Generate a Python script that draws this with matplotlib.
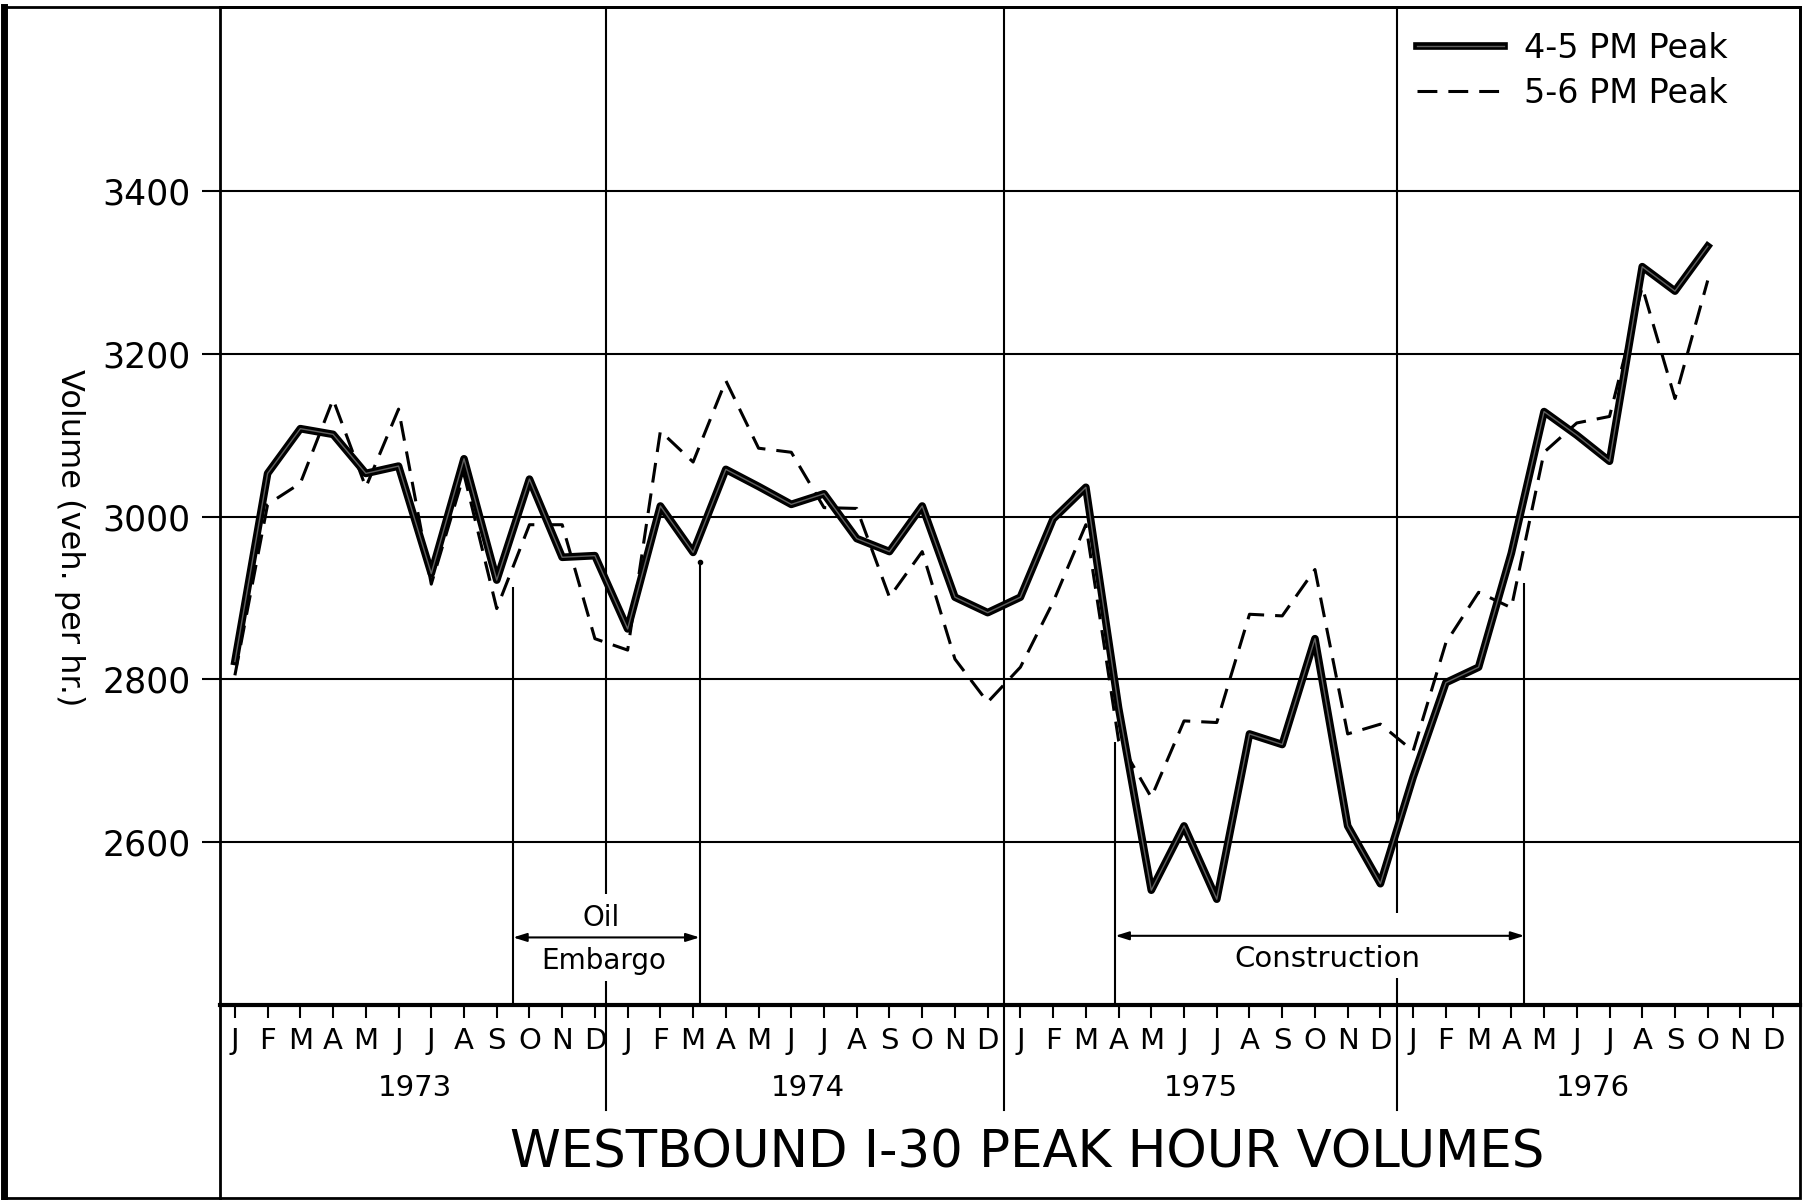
import matplotlib
matplotlib.use("Agg")
import matplotlib.pyplot as plt
import matplotlib.patheffects as pe
from matplotlib import transforms
from matplotlib.lines import Line2D
from matplotlib.patches import Rectangle

# month / year labels
months = ["J", "F", "M", "A", "M", "J", "J", "A", "S", "O", "N", "D"]
years = ["1973", "1974", "1975", "1976"]

# westbound I-30 volumes, Jan 1973 .. Oct 1976 (veh. per hr.)
peak_45 = [2822, 3053, 3108, 3101, 3053, 3062, 2930, 3071, 2922, 3046, 2950, 2952,
           2862, 3013, 2956, 3058, 3037, 3015, 3028, 2973, 2957, 3013, 2901, 2882,
           2901, 2997, 3036, 2765, 2541, 2620, 2530, 2733, 2720, 2850, 2620, 2549,
           2680, 2796, 2815, 2955, 3129, 3100, 3068, 3307, 3277, 3332]
peak_56 = [2805, 3015, 3041, 3144, 3036, 3132, 2917, 3052, 2887, 2990, 2990, 2850,
           2836, 3105, 3067, 3167, 3084, 3079, 3011, 3010, 2901, 2957, 2825, 2772,
           2815, 2895, 2990, 2725, 2655, 2749, 2747, 2880, 2878, 2935, 2733, 2745,
           2712, 2845, 2907, 2888, 3079, 3115, 3123, 3282, 3145, 3290]

yticks = [2600, 2800, 3000, 3200, 3400]

# year dividers, marked periods (month index, top of the marker line)
dividers = [11.35, 23.5, 35.5]
embargo = [8.5, 14.2]
embargo_top = [2913, 2944]
construction = [26.9, 39.4]
construction_top = [2723, 2918]

fig = plt.figure(figsize=(18.14, 12), dpi=100)
ax = fig.add_axes([220 / 1814, 1 - 1005 / 1200, 1580 / 1814, 998 / 1200])

x = list(range(len(peak_45)))
ax.plot(x, peak_45, color="#606060", lw=1.0, solid_joinstyle="round",
        path_effects=[pe.Stroke(linewidth=5.5, foreground="black"), pe.Normal()],
        label="4-5 PM Peak", zorder=4)
ax.plot(x, peak_56, color="black", lw=2.2, dashes=(6.5, 3.6),
        label="5-6 PM Peak", zorder=3)

ax.set_xlim(-0.455, 47.82)
ax.set_ylim(2400, 3626)

ax.set_yticks(yticks)
ax.set_yticklabels([str(v) for v in yticks])
ax.yaxis.grid(True, color="black", lw=1.5)
ax.tick_params(axis="y", direction="out", length=13, width=1.5, pad=8, labelsize=25)

ax.set_xticks(range(48))
ax.set_xticklabels(months * 4)
ax.tick_params(axis="x", direction="out", length=9, width=1.5, pad=7, labelsize=21)

ax.spines["bottom"].set_linewidth(3)
for s in ["left", "top", "right"]:
    ax.spines[s].set_linewidth(2)

# year dividers (broken where the period labels sit)
ax.vlines([dividers[0]] * 2, [2400, 2536], [2430, 3626], color="black", lw=1.5)
ax.vlines(dividers[1], 2400, 3626, color="black", lw=1.5)
ax.vlines([dividers[2]] * 2, [2400, 2513], [2433, 3626], color="black", lw=1.5)
below = transforms.blended_transform_factory(ax.transData, fig.transFigure)
for d in dividers:
    fig.add_artist(Line2D([d, d], [0.075, 1 - 1005 / 1200], transform=below,
                          color="black", lw=1.5))

# oil embargo / construction markers
ax.vlines(embargo, 2400, embargo_top, color="black", lw=1.5)
ax.vlines(construction, 2400, construction_top, color="black", lw=1.5)
ax.plot(embargo[1], embargo_top[1], "o", color="black", ms=3)
arrow = dict(arrowstyle="<|-|>,head_length=0.8,head_width=0.25", color="black",
             lw=1.5, shrinkA=0, shrinkB=0)
ax.annotate("", xy=(embargo[1], 2483), xytext=(embargo[0], 2483), arrowprops=arrow)
ax.annotate("", xy=(construction[1], 2485), xytext=(construction[0], 2485),
            arrowprops=arrow)
ax.text(11.2, 2507, "Oil", ha="center", va="center", fontsize=20)
ax.text(11.28, 2454, "Embargo", ha="center", va="center", fontsize=20)
ax.text(33.37, 2456, "Construction", ha="center", va="center", fontsize=21)

leg = ax.legend(loc="upper left", bbox_to_anchor=(1417 / 1814, 1 - 32 / 1200),
                bbox_transform=fig.transFigure, frameon=False, fontsize=24,
                handlelength=2.6, handletextpad=0.6, borderpad=0,
                borderaxespad=0, labelspacing=0.35)

for i, yr in enumerate(years):
    fig.text(5.5 + 12 * i, 1 - 1088 / 1200, yr, transform=below,
             ha="center", va="center", fontsize=21)

fig.text(69 / 1814, 1 - 538 / 1200, "Volume (veh. per hr.)", rotation=270,
         ha="center", va="center", fontsize=23)
fig.text(1027 / 1814, 1 - 1153 / 1200, "WESTBOUND I-30 PEAK HOUR VOLUMES",
         ha="center", va="center", fontsize=37)

# left axis line runs to the bottom, outer frame
fig.add_artist(Line2D([220 / 1814, 220 / 1814], [0, 1 - 1005 / 1200],
                      transform=fig.transFigure, color="black", lw=2))
fig.add_artist(Rectangle((0.002, 0.002), 0.9923 - 0.002, 0.994 - 0.002,
                         transform=fig.transFigure, fill=False, ec="black", lw=2))
fig.add_artist(Line2D([0.002, 0.002], [0.002, 0.994], transform=fig.transFigure,
                      color="black", lw=5))

plt.savefig("out.png", dpi=100)
